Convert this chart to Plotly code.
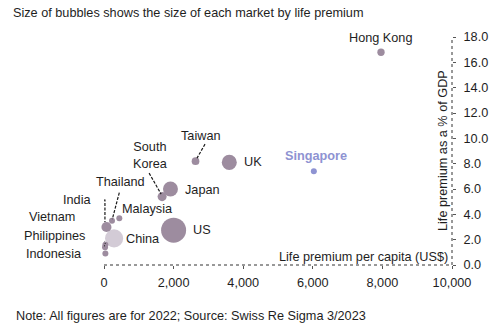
import plotly.graph_objects as go

# Life insurance markets, 2022
markets = ["Hong Kong", "Singapore", "UK", "Taiwan", "Japan", "South Korea", "US",
           "China", "India", "Thailand", "Malaysia", "Vietnam", "Philippines", "Indonesia"]
premium_per_capita = [7960, 6030, 3600, 2630, 1910, 1670, 2000,
                      290, 70, 230, 440, 40, 30, 40]          # US$
premium_pct_gdp = [16.8, 7.4, 8.1, 8.2, 6.0, 5.4, 2.75,
                   2.1, 3.0, 3.5, 3.7, 1.6, 1.4, 0.9]          # % of GDP
market_size = [58, 34, 242, 63, 238, 88, 667,
               353, 108, 16, 14, 4, 6, 16]                      # US$bn life premium

x_ticks = [0, 2000, 4000, 6000, 8000, 10000]
y_ticks = [0, 2, 4, 6, 8, 10, 12, 14, 16, 18]

MAUVE = "#9d8c9f"
CHINA = "#d3cbd6"
SING = "#8e93d2"
TEXT = "#1e1e1e"
LEAD = "#1a1a1a"
FONT = "Liberation Sans, Arial, sans-serif"
FS = 12.7

colors = []
for m in markets:
    if m == "China":
        colors.append(CHINA)
    elif m == "Singapore":
        colors.append(SING)
    else:
        colors.append(MAUVE)

W, H = 495, 333
ML, MR, MT, MB = 104, 43, 37, 68
PW, PH = W - ML - MR, H - MT - MB
XMAX, YMAX = 10000, 18

# label placement: (xshift px, yshift px down, xanchor)
label_pos = {
    "Hong Kong": (0, -14, "center"),
    "Singapore": (2, -15, "center"),
    "UK": (14, 0, "left"),
    "Taiwan": (5.5, -25.5, "center"),
    "Japan": (13.5, 1, "left"),
    "South Korea": (-12, -41.5, "center"),
    "US": (18, 0, "left"),
    "China": (11, 1, "left"),
    "India": (-14.5, -27, "right"),
    "Thailand": (8, -38.5, "center"),
    "Malaysia": (1.5, -9, "left"),
    "Vietnam": (-29, -27.5, "right"),
    "Philippines": (-19, -11, "right"),
    "Indonesia": (-22, 0.5, "right"),
}
label_text = {"South Korea": "South<br>Korea"}

# leader lines: polyline vertices as pixel offsets (right, down) from each bubble centre
leaders = {
    "Taiwan": [(9.5, -17), (1.5, -3)],
    "South Korea": [(-13, -23.5), (-1, -2.5)],
    "India": [(-12, -27), (-1.5, -27), (-1.5, -5)],
    "Thailand": [(7.3, -28), (0.3, -1.5)],
    "Vietnam": [(-26, -30.5), (-20, -30), (0, -1)],
    "Philippines": [(-17, -11), (-9, -10.5), (-0.5, -1)],
    "Indonesia": [(-19.5, 0.5), (-2, 0.5)],
}

shapes = [
    dict(type="line", xref="paper", yref="paper", x0=0, x1=1, y0=0, y1=0,
         line=dict(color="#333333", width=1, dash="dot")),
    dict(type="line", xref="paper", yref="paper", x0=1, x1=1, y0=0, y1=1,
         line=dict(color="#333333", width=1, dash="dot")),
]
for name, pts in leaders.items():
    i = markets.index(name)
    path = " ".join(
        ("M" if k == 0 else "L") + f"{dx},{-dy}" for k, (dx, dy) in enumerate(pts)
    )
    shapes.append(dict(
        type="path", xref="x", yref="y",
        xsizemode="pixel", xanchor=premium_per_capita[i],
        ysizemode="pixel", yanchor=premium_pct_gdp[i],
        path=path,
        line=dict(color=LEAD, width=1.2, dash="3px,1.5px"), layer="above",
    ))

fig = go.Figure()
fig.add_trace(go.Scatter(
    x=premium_per_capita, y=premium_pct_gdp, mode="markers",
    marker=dict(size=market_size, sizemode="area",
                sizeref=2.0 * max(market_size) / 25 ** 2,
                sizemin=3, color=colors, line=dict(width=0), opacity=1),
    text=markets, hoverinfo="text", showlegend=False, cliponaxis=False,
))

annotations = []
for i, m in enumerate(markets):
    dx, dy, anchor = label_pos[m]
    is_sing = m == "Singapore"
    annotations.append(dict(
        x=premium_per_capita[i], y=premium_pct_gdp[i], xref="x", yref="y",
        text=f"<b>{m}</b>" if is_sing else label_text.get(m, m),
        showarrow=False, xanchor=anchor, yanchor="middle",
        xshift=dx, yshift=-dy, borderpad=0,
        font=dict(family=FONT, size=FS, color=SING if is_sing else TEXT),
    ))

annotations += [
    dict(text="Life premium per capita (US$)", xref="paper", yref="paper",
         x=1, y=0, xanchor="right", yanchor="middle", xshift=-3, yshift=8,
         showarrow=False, borderpad=0, font=dict(family=FONT, size=FS, color=TEXT)),
    dict(text="Life premium as a % of GDP", xref="paper", yref="paper",
         x=1, y=0.5, xanchor="center", yanchor="middle", xshift=-9, textangle=-90,
         showarrow=False, borderpad=0, font=dict(family=FONT, size=FS, color=TEXT)),
    dict(text="Size of bubbles shows the size of each market by life premium",
         xref="paper", yref="paper", x=(12 - ML) / PW, y=(H - MB - 13) / PH,
         xanchor="left", yanchor="middle", showarrow=False, borderpad=0,
         font=dict(family=FONT, size=FS, color=TEXT)),
    dict(text="Note: All figures are for 2022; Source: Swiss Re Sigma 3/2023",
         xref="paper", yref="paper", x=(15 - ML) / PW, y=(H - MB - 316) / PH,
         xanchor="left", yanchor="middle", showarrow=False, borderpad=0,
         font=dict(family=FONT, size=FS, color=TEXT)),
]

fig.update_layout(
    width=W, height=H, margin=dict(l=ML, r=MR, t=MT, b=MB, autoexpand=False),
    paper_bgcolor="white", plot_bgcolor="white",
    font=dict(family=FONT, size=FS, color=TEXT),
    annotations=annotations,
    shapes=shapes,
    xaxis=dict(range=[0, XMAX], tickvals=x_ticks, tickformat=",d",
               showgrid=False, zeroline=False, showline=False, automargin=False,
               ticks="outside", ticklen=3, tickcolor="#555555",
               ticklabelstandoff=3, fixedrange=True),
    yaxis=dict(range=[0, YMAX], tickvals=y_ticks, tickformat=".1f", side="right",
               showgrid=False, zeroline=False, showline=False, automargin=False,
               ticks="outside", ticklen=3, tickcolor="#555555",
               ticklabelstandoff=5, fixedrange=True),
)

fig.write_html("out.html")
